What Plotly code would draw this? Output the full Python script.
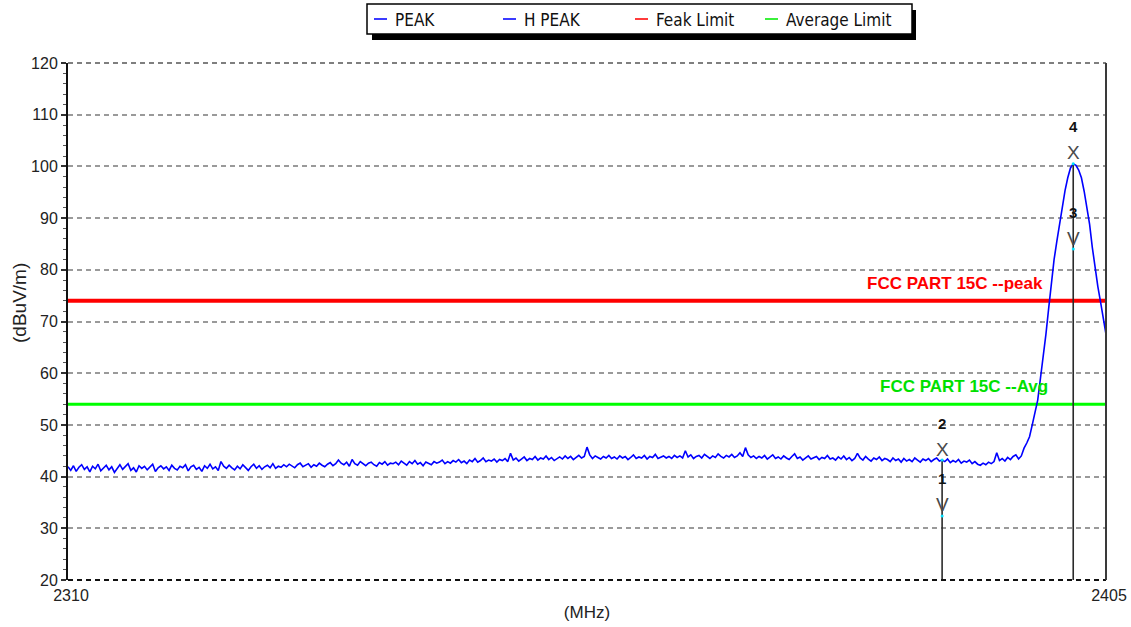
import numpy as np
import plotly.graph_objects as go

# ---- sweep (MHz) ----
start_mhz = 2310
stop_mhz = 2405
step_mhz = 0.25

# measured field strength, dBuV/m, one value per sweep step
level_dbuv = [
    41.9, 41.2, 42.1, 41.0, 41.8, 42.3, 41.4, 41.9, 40.9, 42.0, 41.5, 42.4, 41.1, 41.7, 42.2, 41.3, 41.9, 40.8, 41.6, 42.3,
    41.4, 41.9, 42.5, 41.2, 41.7, 40.9, 42.1, 41.6, 42.0, 41.3, 41.8, 42.4, 41.0, 41.7, 42.1, 41.5, 41.9, 41.2, 42.2, 41.6,
    41.3, 42.0, 41.7, 42.3, 41.1, 41.9, 42.2, 41.4, 41.8, 41.0, 42.1, 41.6, 42.4, 41.5, 41.9, 41.2, 42.9, 42.0, 41.6, 42.2,
    41.7, 41.3, 42.0, 41.5, 42.3, 41.8, 41.2, 41.9, 42.4, 41.6, 42.1, 41.4, 41.9, 42.2, 41.7, 42.5, 41.6, 42.0, 41.8, 42.3,
    41.9, 42.4, 42.0, 41.7, 42.3, 42.6, 41.9, 42.2, 42.5, 41.8, 42.3, 42.0, 42.6, 42.2, 41.9, 42.4, 42.7, 42.1, 42.5, 43.2,
    42.6, 42.3, 42.8, 42.0, 43.3, 42.5, 42.2, 42.9, 42.4, 42.1, 42.6, 42.8, 42.3, 42.0, 42.7, 42.4, 42.9, 42.2, 42.6, 42.5,
    42.8, 42.3, 43.0, 42.6, 42.2, 42.9, 42.5, 43.1, 42.4, 42.7, 42.1, 42.8, 42.5, 42.3, 42.9, 42.6, 42.8, 43.2, 42.5, 42.9,
    42.6, 43.1, 42.8, 43.3, 42.7, 43.0, 42.5, 43.2, 42.9, 43.5, 42.8, 43.1, 43.6, 42.9, 43.2, 43.0, 43.4, 42.8, 43.3, 43.1,
    43.5, 42.9, 44.5, 43.2, 43.6, 43.0, 43.4, 43.8, 43.1, 43.5, 43.3, 43.9, 43.2, 43.6, 43.4, 44.0, 43.3, 43.7, 43.1, 43.5,
    43.8, 43.4, 44.0, 43.5, 43.9, 43.3, 43.7, 44.1, 43.6, 43.9, 45.7, 44.2, 43.5, 44.0, 43.7, 43.4, 43.9, 43.6, 44.1, 43.5,
    43.8, 43.4, 44.0, 43.6, 43.9, 43.3, 43.7, 44.2, 43.5, 43.8, 43.6, 44.1, 43.4, 43.9, 43.7, 44.3, 43.5, 43.8, 44.0, 43.6,
    43.9, 43.5, 44.1, 43.7, 44.0, 43.6, 45.0, 43.8, 44.2, 43.5, 43.9, 44.1, 43.6, 44.3, 43.8, 43.5, 44.0, 43.7, 44.4, 43.9,
    43.6, 44.1, 43.8, 44.3, 43.7, 44.0, 44.6, 43.9, 45.6, 44.2, 43.7, 44.0, 43.5, 43.9, 43.6, 44.1, 43.4, 43.8, 44.2, 43.5,
    43.8, 43.4, 44.0, 43.6, 43.3, 43.9, 44.4, 43.5, 43.8, 43.2, 43.7, 44.0, 43.4, 43.6, 43.9, 43.3, 43.7, 43.5, 44.1, 43.4,
    43.6, 43.2, 43.8, 43.4, 44.0, 43.3, 43.7, 43.1, 43.5, 44.5, 43.6, 43.2, 43.9, 43.4, 43.0, 43.6, 43.3, 43.8, 43.1, 43.5,
    43.3, 42.9, 43.6, 43.1, 43.4, 42.8, 43.5, 43.0, 43.3, 42.9, 43.6, 43.2, 42.8, 43.4, 43.1, 43.5, 42.9, 43.3, 43.6, 43.0,
    43.2, 42.9, 43.4, 42.7, 43.1, 42.8, 43.3, 42.6, 43.0, 42.8, 43.2, 42.5, 42.9, 42.4, 42.2, 42.6, 42.3, 42.8, 42.5, 42.9,
    44.6, 43.1, 43.5, 43.0, 43.7, 43.3, 43.9, 44.2, 43.4, 44.0, 45.5, 46.5, 47.7, 50.0, 52.6, 54.8, 59.0, 63.0, 67.5, 72.5,
    77.5, 82.0, 85.5, 89.0, 92.3, 95.3, 97.8, 99.7, 100.5, 100.2, 99.3, 97.8, 95.2, 92.3, 88.8, 84.3, 80.2, 76.8, 73.8, 70.8,
    67.5,
]

freq_mhz = np.round(np.arange(start_mhz, stop_mhz + step_mhz / 2, step_mhz), 2)

# ---- limits (dBuV/m) ----
peak_limit = 74
avg_limit = 54
peak_limit_label = "FCC PART 15C --peak"
avg_limit_label = "FCC PART 15C --Avg"

# ---- markers ----
marker_ids = ["1", "2", "3", "4"]
marker_freq = [2390, 2390, 2402, 2402]
marker_level = [32.4, 43.2, 84.0, 100.5]
marker_kind = ["V", "X", "V", "X"]

# ---- axes ----
y_range = [20, 120]
y_ticks = [20, 30, 40, 50, 60, 70, 80, 90, 100, 110, 120]
x_ticks = [2310, 2405]
x_title = "(MHz)"
y_title = "(dBuV/m)"

# ---- legend ----
legend_names = ["PEAK", "H PEAK", "Feak Limit", "Average Limit"]
legend_colors = ["#3b3bff", "#3b3bff", "#ff3b3b", "#3bf03b"]

# ---- figure geometry (px) ----
W, H = 1131, 627
ML, MR, MT, MB = 68, 25, 63, 47
PW, PH = W - ML - MR, H - MT - MB


def px_x(x):
    return (x - ML) / PW


def px_y(y):
    return (H - MB - y) / PH


FONT = "Liberation Sans, Arial, sans-serif"
LEGEND_FONT = "DejaVu Sans Condensed, Liberation Sans, sans-serif"

fig = go.Figure()

# limit lines
fig.add_trace(go.Scatter(x=[start_mhz, stop_mhz], y=[peak_limit, peak_limit], mode="lines",
                         line=dict(color="#ff0000", width=4), name="Feak Limit",
                         showlegend=False, hoverinfo="skip"))
fig.add_trace(go.Scatter(x=[start_mhz, stop_mhz], y=[avg_limit, avg_limit], mode="lines",
                         line=dict(color="#00ff00", width=3), name="Average Limit",
                         showlegend=False, hoverinfo="skip"))

# measured trace
fig.add_trace(go.Scatter(x=freq_mhz, y=level_dbuv, mode="lines",
                         line=dict(color="#0000ff", width=1.6), showlegend=False, name="H PEAK"))

# marker stems: from the floor up to the highest marker at each frequency
stem_x, stem_y = [], []
for f in sorted(set(marker_freq)):
    top = max(l for mf, l in zip(marker_freq, marker_level) if mf == f)
    stem_x += [f, f, None]
    stem_y += [y_range[0], top, None]
fig.add_trace(go.Scatter(x=stem_x, y=stem_y, mode="lines",
                         line=dict(color="#2a2a2a", width=1.6), showlegend=False, hoverinfo="skip"))
fig.add_trace(go.Scatter(x=marker_freq, y=marker_level, mode="markers",
                         marker=dict(color="#00e0ff", size=3), showlegend=False, hoverinfo="skip"))

annotations = []
for mid, f, lvl, kind in zip(marker_ids, marker_freq, marker_level, marker_kind):
    annotations.append(dict(x=f, y=lvl, text=kind, showarrow=False, yshift=11,
                            font=dict(family=FONT, size=19, color="#4a4a4a")))
    annotations.append(dict(x=f, y=lvl, text=f"<b>{mid}</b>", showarrow=False, yshift=37,
                            font=dict(family=FONT, size=15, color="#111111")))

annotations.append(dict(x=2399.4, y=peak_limit, text=f"<b>{peak_limit_label}</b>", showarrow=False,
                        xanchor="right", yanchor="middle", yshift=17,
                        font=dict(family=FONT, size=17, color="#ff0000")))
annotations.append(dict(x=2399.84, y=avg_limit, text=f"<b>{avg_limit_label}</b>", showarrow=False,
                        xanchor="right", yanchor="middle", yshift=18,
                        font=dict(family=FONT, size=17, color="#00e000")))

# y axis title
annotations.append(dict(xref="paper", yref="paper", x=px_x(19), y=px_y(303), text=y_title,
                        textangle=-90, showarrow=False, xanchor="center", yanchor="middle",
                        font=dict(family=FONT, size=19, color="#222222")))

shapes = [
    # legend box with drop shadow
    dict(type="rect", xref="paper", yref="paper", x0=px_x(372), x1=px_x(916), y0=px_y(40), y1=px_y(10),
         fillcolor="black", line=dict(width=0), layer="above"),
    dict(type="rect", xref="paper", yref="paper", x0=px_x(367), x1=px_x(912), y0=px_y(34), y1=px_y(4),
         fillcolor="white", line=dict(color="black", width=1.5), layer="above"),
    # frame: top dashed, bottom dashed, right solid
    dict(type="line", xref="paper", yref="paper", x0=0, x1=1, y0=1, y1=1,
         line=dict(color="#555555", width=1.5, dash="5px,4px")),
    dict(type="line", xref="paper", yref="paper", x0=0, x1=1, y0=0, y1=0,
         line=dict(color="#111111", width=2, dash="5px,4px")),
    dict(type="line", xref="paper", yref="paper", x0=1, x1=1, y0=0, y1=1,
         line=dict(color="#3a3a3a", width=2)),
]

# legend entries: short swatch + label
legend_swatch_x = [374, 503, 635, 765]
for name, col, sx in zip(legend_names, legend_colors, legend_swatch_x):
    shapes.append(dict(type="line", xref="paper", yref="paper", x0=px_x(sx), x1=px_x(sx + 13),
                       y0=px_y(19), y1=px_y(19), line=dict(color=col, width=2), layer="above"))
    annotations.append(dict(xref="paper", yref="paper", x=px_x(sx + 19), y=px_y(19.5), text=name,
                            showarrow=False, xanchor="left", yanchor="middle",
                            font=dict(family=LEGEND_FONT, size=17, color="#111111")))

fig.update_layout(
    width=W, height=H,
    margin=dict(l=ML, r=MR, t=MT, b=MB, pad=0, autoexpand=False),
    paper_bgcolor="white", plot_bgcolor="white",
    font=dict(family=FONT, color="#222222"),
    showlegend=False,
    annotations=annotations,
    shapes=shapes,
    xaxis=dict(range=[start_mhz, stop_mhz], tickvals=x_ticks, ticktext=[str(v) for v in x_ticks],
               showgrid=False, zeroline=False, showline=False, ticks="", automargin=False,
               ticklabelshift=3, ticklabelstandoff=4,
               tickfont=dict(family=FONT, size=16, color="#222222"),
               title=dict(text=x_title, standoff=3, font=dict(family=FONT, size=17, color="#222222"))),
    yaxis=dict(range=y_range, tickvals=y_ticks, showgrid=True, gridcolor="#9a9a9a", gridwidth=1.5,
               griddash="5px,4px", zeroline=False, showline=True, linecolor="#111111", linewidth=2,
               ticks="outside", ticklen=5, tickwidth=1.5, tickcolor="#333333", automargin=False,
               minor=dict(dtick=2, ticks="outside", ticklen=3, tickwidth=1.2, tickcolor="#555555",
                          showgrid=False),
               tickfont=dict(family=FONT, size=16, color="#222222")),
)

fig.write_html("out.html")
